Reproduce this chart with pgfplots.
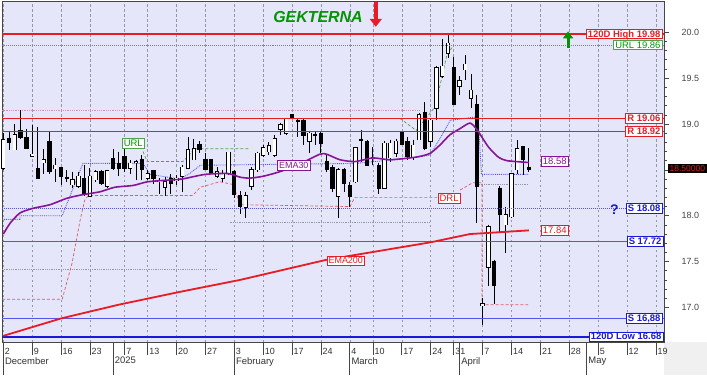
\documentclass[border=0pt]{standalone}
\usepackage{pgfplots}
\pgfplotsset{compat=1.18}
\usepackage{pgfplotstable}
\usepackage{fontspec}
\setmainfont{Liberation Sans}
\usetikzlibrary{arrows.meta}
\definecolor{bgl}{RGB}{230,230,250}
\definecolor{rl}{RGB}{232,28,36}
\definecolor{bl}{RGB}{85,85,235}
\definecolor{bd}{RGB}{25,25,215}
\definecolor{gr}{RGB}{0,150,0}
\definecolor{grd}{RGB}{80,160,80}
\definecolor{pu}{RGB}{135,20,150}
\definecolor{pk}{RGB}{225,90,100}
\definecolor{gd}{RGB}{150,150,165}
\definecolor{pg}{RGB}{200,150,165}
\definecolor{tk}{RGB}{70,70,70}

% up candles: index open high low close
\pgfplotstableread{
i o h l c
0 18.52 18.90 18.50 18.83
2 18.72 19.00 18.72 18.88
5 18.65 18.99 18.64 18.67
7 18.58 18.73 18.46 18.61
9 18.51 18.63 18.37 18.55
12 18.34 18.48 18.30 18.39
13 18.32 18.48 18.30 18.43
15 18.21 18.52 18.21 18.43
16 18.39 18.50 18.37 18.48
18 18.32 18.50 18.30 18.49
22 18.52 18.61 18.46 18.57
23 18.58 18.61 18.39 18.59
25 18.41 18.50 18.39 18.46
27 18.37 18.41 18.24 18.38
28 18.31 18.42 18.21 18.37
30 18.38 18.44 18.33 18.41
31 18.43 18.55 18.26 18.53
32 18.52 18.86 18.52 18.72
33 18.61 18.84 18.61 18.73
37 18.43 18.53 18.41 18.48
38 18.41 18.50 18.37 18.46
39 18.46 18.69 18.44 18.69
42 18.09 18.26 17.98 18.22
43 18.32 18.53 18.28 18.50
44 18.50 18.70 18.48 18.68
45 18.66 18.77 18.64 18.74
46 18.70 18.80 18.66 18.76
47 18.66 18.88 18.64 18.84
48 18.94 19.01 18.88 18.99
49 18.90 19.07 18.88 19.06
53 18.81 18.92 18.68 18.90
58 18.21 18.52 17.97 18.50
61 18.37 18.75 18.36 18.74
64 18.62 18.75 18.55 18.63
66 18.30 18.81 18.30 18.79
67 18.63 18.83 18.59 18.79
68 18.68 18.84 18.64 18.81
71 18.64 18.83 18.61 18.77
72 18.83 19.12 18.82 19.10
74 18.81 19.06 18.75 19.04
75 19.17 19.63 19.04 19.61
76 19.52 19.93 19.50 19.63
77 19.77 19.98 19.72 19.88
79 19.41 19.52 19.32 19.47
80 19.59 19.75 19.48 19.65
81 19.28 19.55 19.17 19.37
83 17.02 17.10 16.81 17.04
84 17.44 17.90 17.23 17.88
87 17.90 18.10 17.59 18.01
88 17.99 18.47 17.98 18.46
89 18.50 18.82 18.46 18.73
}\upc

% down candles: index open high low close
\pgfplotstableread{
i o h l c
1 18.84 18.92 18.72 18.80
3 18.93 19.15 18.84 18.85
4 18.85 18.95 18.73 18.73
6 18.51 18.97 18.41 18.41
8 18.81 18.92 18.46 18.48
10 18.52 18.53 18.33 18.43
11 18.42 18.50 18.37 18.41
14 18.41 18.55 18.21 18.23
17 18.48 18.50 18.33 18.35
19 18.62 18.73 18.50 18.52
20 18.57 18.70 18.43 18.52
21 18.64 18.75 18.48 18.52
24 18.61 18.66 18.39 18.50
26 18.49 18.50 18.35 18.41
29 18.40 18.46 18.24 18.35
34 18.78 18.81 18.68 18.72
35 18.61 18.68 18.50 18.50
36 18.61 18.61 18.46 18.46
40 18.48 18.50 18.19 18.23
41 18.22 18.27 18.02 18.10
50 19.10 19.11 19.05 19.06
51 19.04 19.06 18.86 19.03
52 19.04 19.06 18.77 18.88
54 18.89 18.92 18.77 18.88
55 18.90 18.92 18.68 18.79
56 18.59 18.66 18.48 18.50
57 18.52 18.55 18.26 18.30
59 18.50 18.52 18.26 18.35
60 18.33 18.37 18.09 18.21
62 18.83 18.93 18.59 18.82
63 18.81 18.83 18.55 18.55
65 18.55 18.58 18.24 18.30
69 18.91 18.92 18.77 18.78
70 18.81 18.86 18.61 18.65
73 19.13 19.24 18.72 18.73
78 19.61 19.73 19.21 19.21
82 19.21 19.32 17.92 18.32
85 17.50 17.52 17.04 17.24
86 18.30 18.32 17.81 18.01
90 18.75 18.76 18.44 18.61
91 18.53 18.74 18.48 18.50
}\dnc

\pgfplotsset{
  wick/.style={draw=none, mark=none, forget plot,
    error bars/.cd, y dir=minus, y explicit, error mark=none,
    error bar style={draw=black, line width=0.9bp}},
  body/.style={draw=none, mark=none, forget plot,
    error bars/.cd, y dir=minus, y explicit, error mark=none,
    error bar style={draw=#1, line width=4.3bp}},
  bodyin/.style={draw=none, mark=none, forget plot,
    error bars/.cd, y dir=minus, y explicit, error mark=none,
    error bar style={draw=white, line width=2.7bp}},
}
\tikzset{
  lbl/.style={fill=white, line width=0.8bp, inner xsep=1.6bp, inner ysep=0.9bp,
    text height=6.9bp, text depth=0.7bp, font=\fontsize{9.5}{10}\selectfont},
  mon/.style={anchor=north west, inner sep=1bp, xshift=0.6bp, yshift=-14bp,
    font=\fontsize{9.5}{10}\selectfont, text=black!80},
}

\begin{document}
\begin{tikzpicture}[x=1bp,y=1bp]
\useasboundingbox (0,0) rectangle (707,375);
\fill[white] (0,0) rectangle (707,375);
\fill[gray!12] (664,0) rectangle (707,33);
\begin{axis}[at={(2bp,33bp)}, anchor=south west, scale only axis,
  width=662bp, height=341bp,
  xmin=-0.225, xmax=114.41, ymin=16.623, ymax=20.341,
  clip=false,
  axis background/.style={fill=bgl},
  axis line style={tk, line width=0.6bp},
  ytick=\empty,
  xtick={0,5,10,15,21,25,30,35,40,45,50,55,60,64,69,74,78,83,88,93,98,103,108,113},
  xticklabels={2,9,16,23,7,13,20,27,3,10,17,24,4,10,17,24,31,7,14,21,28,5,12,19},
  xtick pos=left, tick align=outside, major tick length=13bp,
  xtick style={tk, line width=0.6bp},
  xticklabel style={anchor=north west, inner sep=1bp, xshift=0.5bp, yshift=8bp,
    font=\fontsize{9}{10}\selectfont, text=black!80},
  xmajorgrids, major grid style={gd, dash pattern=on 2.5bp off 2.5bp, line width=0.5bp},
  extra x ticks={0,19,40,60,79,101},
  extra x tick labels={},
  extra x tick style={grid=none, major tick length=33bp},
]
% dotted envelope lines
\addplot[pg, densely dotted, line width=0.8bp] coordinates {(-0.225,19.15) (72,19.15)};
\addplot[gd, densely dotted, line width=0.8bp] coordinates {(-0.225,17.41) (37,17.41)};
\addplot[gd, densely dotted, line width=0.8bp] coordinates {(39.2,17.93) (73.9,17.93)};
\addplot[gd, densely dotted, line width=0.8bp] coordinates {(81.7,18.34) (91,18.34)};
% DRL step line
\addplot[pk, densely dashed, line width=0.7bp] coordinates {
(-0.2,17.09) (10.2,17.09) (11.9,17.48) (13.3,17.95) (14.1,18.17) (14.7,18.22)
(32.8,18.22) (34.1,18.31) (37.5,18.37) (39.8,18.34) (41.0,18.12) (60.0,18.10)
(60.9,18.20) (75.1,18.20)};
\addplot[pk, densely dashed, line width=0.7bp] coordinates {
(79.1,18.28) (81.3,18.36) (82.9,18.36) (82.9,17.03) (90.9,17.03)};
% blue trailing line
\addplot[bl, densely dotted, line width=0.9bp] coordinates {
(-0.2,17.96) (2.9,17.96) (2.9,18.00) (10.2,18.00) (13.8,18.57) (24.2,18.57)
(25.4,18.45) (30.6,18.40) (32.3,18.46) (34.1,18.55) (60.9,18.57) (69.2,18.62)
(73.9,18.66) (75.6,18.84) (77.4,19.04) (82.2,19.08) (82.8,18.45) (90.9,18.45)};
% green URL step line
\addplot[grd, densely dashed, line width=0.7bp] coordinates {
(24.2,18.70) (24.9,18.59) (31.1,18.59) (33.2,18.73) (42.7,18.73)};
\addplot[grd, densely dashed, line width=0.7bp] coordinates {
(68.7,19.06) (71.5,18.93) (74.8,19.19) (76.8,19.75) (78,19.86)};

% candles
\addplot[wick] table[x=i, y=h, y error expr=\thisrow{h}-\thisrow{l}] {\upc};
\addplot[wick] table[x=i, y=h, y error expr=\thisrow{h}-\thisrow{l}] {\dnc};
\addplot[body=black] table[x=i, y expr=\thisrow{c}+0.006, y error expr=\thisrow{c}-\thisrow{o}+0.012] {\upc};
\addplot[bodyin] table[x=i, y=c, y error expr=\thisrow{c}-\thisrow{o}] {\upc};
\addplot[body=black] table[x=i, y expr=\thisrow{o}+0.006, y error expr=\thisrow{o}-\thisrow{c}+0.012] {\dnc};

% horizontal levels
\addplot[grd, densely dotted, line width=1bp] coordinates {(-0.225,19.86) (114.41,19.86)};
\addplot[rl, line width=1.5bp] coordinates {(-0.225,19.98) (114.41,19.98)};
\addplot[bl, densely dotted, line width=1bp] coordinates {(-0.225,18.08) (114.41,18.08)};
\addplot[bl, line width=0.9bp] coordinates {(-0.225,17.72) (114.41,17.72)};
\addplot[bl, line width=0.9bp] coordinates {(-0.225,16.88) (114.41,16.88)};
\addplot[bd, line width=2bp] coordinates {(-0.225,16.68) (114.41,16.68)};

% EMA200
\addplot[rl, line width=1.8bp] coordinates {
(0,16.69) (10,16.88) (20,17.03) (30.6,17.17) (41,17.30) (56,17.52) (74,17.71)
(80.8,17.80) (91,17.84)};
% EMA30
\addplot[pu, line width=1.6bp, smooth, tension=0.4] coordinates {
(0,17.80) (1.2,17.92) (2.9,18.03) (5.1,18.08) (8.1,18.12) (11,18.19) (13.8,18.23)
(16.7,18.26) (19.3,18.31) (22.5,18.33) (25,18.37) (28.9,18.39) (31,18.40)
(34.9,18.45) (38.9,18.46) (41,18.42) (42.7,18.41) (45,18.43) (47.9,18.48)
(50.9,18.55) (54.8,18.67) (56,18.67) (58.3,18.61) (60.9,18.59) (64,18.63)
(67,18.61) (71.6,18.64) (73.9,18.68) (75.6,18.77) (77.3,18.88) (79.1,18.95)
(80.8,19.01) (82,18.94) (84,18.75) (85.7,18.64) (87.2,18.60) (91,18.58)};
% resistance lines
\addplot[rl, line width=1.1bp] coordinates {(-0.225,19.06) (114.41,19.06)};
\addplot[rl, line width=1.1bp] coordinates {(-0.225,18.92) (114.41,18.92)};

% labels
\node[lbl, draw=rl, text=rl, font=\bfseries\fontsize{9.5}{10}\selectfont, anchor=east] at (axis cs:114.15,19.98) {120D High 19.98};
\node[lbl, draw=grd, text=gr, anchor=east] at (axis cs:114.15,19.86) {URL 19.86};
\node[lbl, draw=rl, text=rl, font=\bfseries\fontsize{9.5}{10}\selectfont, anchor=east] at (axis cs:114.15,19.06) {R 19.06};
\node[lbl, draw=rl, text=rl, font=\bfseries\fontsize{9.5}{10}\selectfont, anchor=east] at (axis cs:114.15,18.92) {R 18.92};
\node[lbl, draw=bd, text=bd, font=\bfseries\fontsize{9.5}{10}\selectfont, anchor=east] at (axis cs:114.15,18.08) {S 18.08};
\node[lbl, draw=bd, text=bd, font=\bfseries\fontsize{9.5}{10}\selectfont, anchor=east] at (axis cs:114.3,17.72) {S 17.72};
\node[lbl, draw=bd, text=bd, font=\bfseries\fontsize{9.5}{10}\selectfont, anchor=east] at (axis cs:114.15,16.88) {S 16,88};
\node[lbl, draw=bd, text=bd, font=\bfseries\fontsize{9.5}{10}\selectfont, anchor=east] at (axis cs:114.3,16.68) {120D Low 16.68};
\node[lbl, draw=pu, text=pu] at (axis cs:95.5,18.59) {18.58};
\node[lbl, draw=rl, text=rl] at (axis cs:95.5,17.84) {17.84};
\node[lbl, draw=pu, text=pu, font=\fontsize{9}{10}\selectfont] at (axis cs:50.3,18.55) {EMA30};
\node[lbl, draw=rl, text=rl, font=\fontsize{9}{10}\selectfont] at (axis cs:59.3,17.51) {EMA200};
\node[lbl, draw=grd, text=gr] at (axis cs:22.5,18.79) {URL};
\node[lbl, draw=rl, text=rl] at (axis cs:77.2,18.19) {DRL};
\node[text=gr, font=\bfseries\itshape\fontsize{16}{16}\selectfont] at (axis cs:54.5,20.17) {GEKTERNA};
\draw[rl, line width=3.6bp, -{Triangle[width=12bp,length=8bp]}] (axis cs:64.5,20.33) -- (axis cs:64.5,20.06);
\draw[gr, line width=3bp, -{Triangle[width=10bp,length=7bp]}] (axis cs:97.8,19.83) -- (axis cs:97.8,20.01);
\node[text=bd, font=\bfseries\fontsize{14}{14}\selectfont] at (axis cs:105.8,18.07) {?};
% month names under the day row
\node[mon] at (axis cs:0,16.623) {December};
\node[mon] at (axis cs:19,16.623) {2025};
\node[mon] at (axis cs:40,16.623) {February};
\node[mon] at (axis cs:60,16.623) {March};
\node[mon] at (axis cs:79,16.623) {April};
\node[mon] at (axis cs:101,16.623) {May};
\end{axis}
\begin{axis}[at={(2bp,33bp)}, anchor=south west, scale only axis,
  width=662bp, height=341bp,
  xmin=-0.225, xmax=114.41, ymin=16.623, ymax=20.341,
  axis x line=none, axis y line*=right,
  axis line style={tk, line width=0.6bp},
  ytick={17,17.5,18,18.5,19,19.5,20},
  yticklabels={17.0,17.5,18.0,,19.0,19.5,20.0},
  minor y tick num=4, tick align=outside,
  major tick length=5bp, minor tick length=2.5bp,
  ytick style={tk, line width=0.6bp},
  yticklabel style={font=\fontsize{9}{10}\selectfont, text=tk, xshift=9bp},
]
\coordinate (pb) at (axis cs:114.41,18.515);
\end{axis}
\node[fill=black, text=rl, anchor=west, inner xsep=1.5bp, inner ysep=1.5bp,
  font=\fontsize{8.5}{9}\selectfont] at ([xshift=4bp]pb) {18.50000};
\end{tikzpicture}
\end{document}
